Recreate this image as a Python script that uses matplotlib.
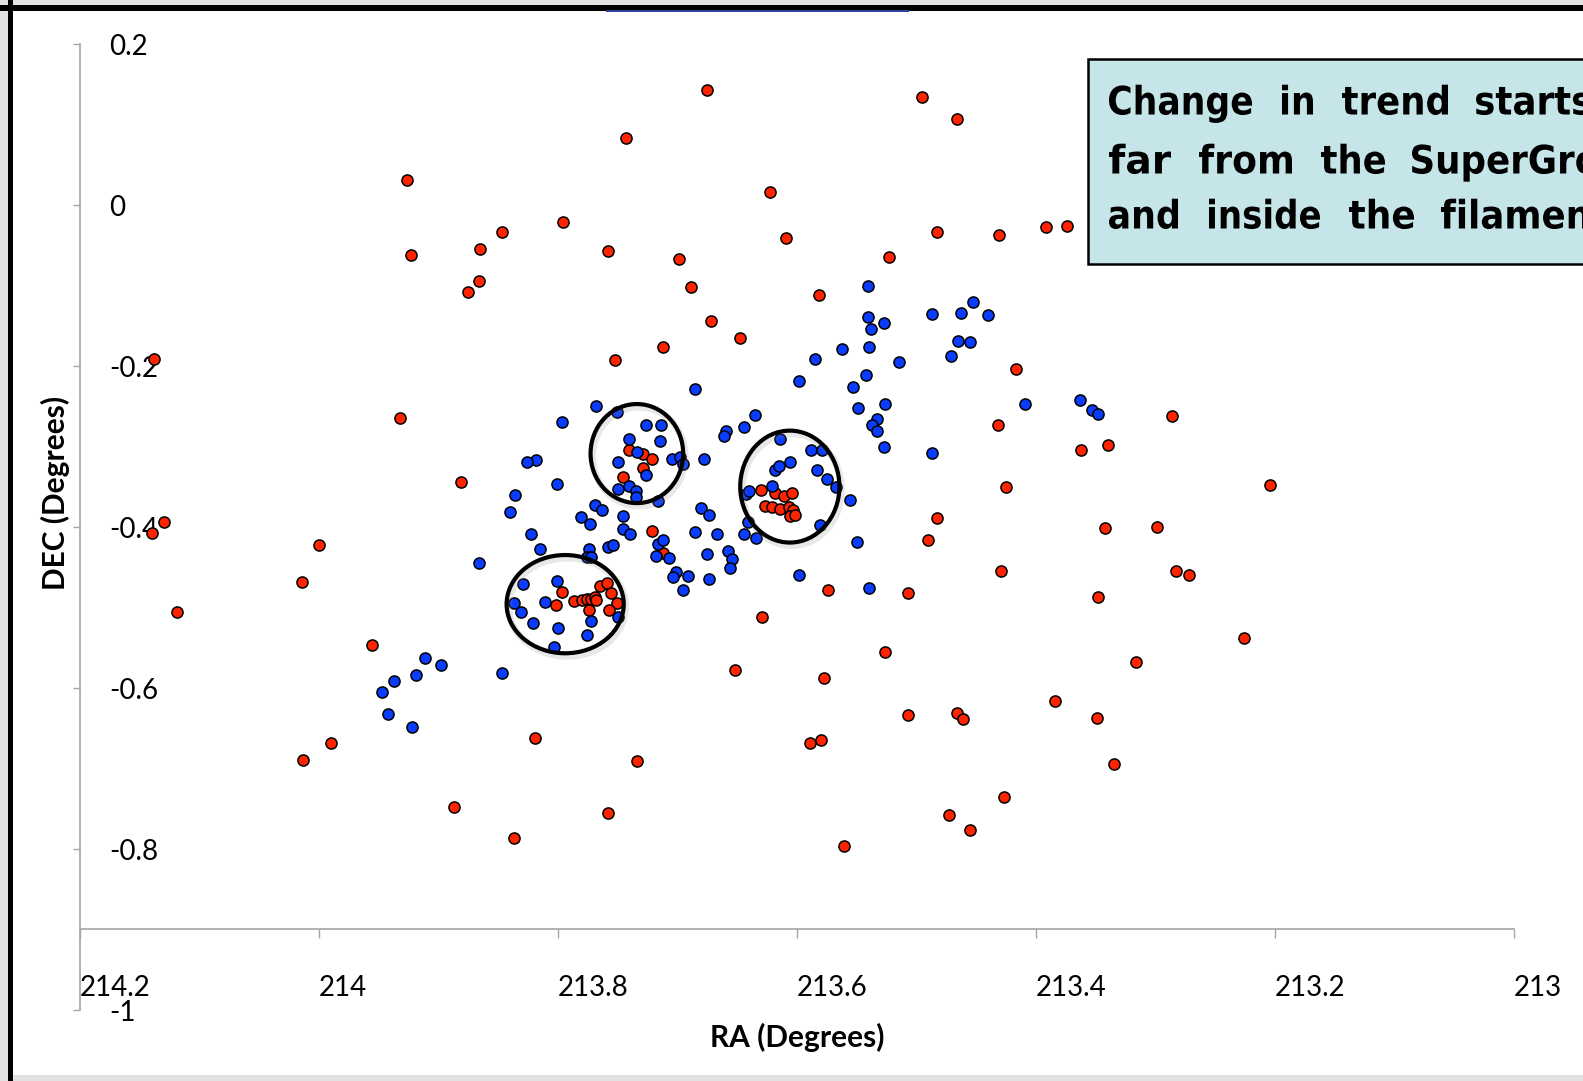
import matplotlib
matplotlib.use("Agg")
import matplotlib.pyplot as plt
from matplotlib.patches import Ellipse, Rectangle, PathPatch
from matplotlib.textpath import TextPath
from matplotlib.font_manager import FontProperties
from matplotlib import transforms

plt.rcParams['font.family'] = ['Lato', 'DejaVu Sans']

# red points (RA, DEC)
red_ra = [213.926, 213.923, 213.847, 213.865, 213.866, 213.875, 214.138, 213.932,
          213.675, 213.495, 213.743, 213.623, 213.796, 213.758, 213.699, 213.609,
          213.523, 213.689, 213.582, 213.672, 213.648, 213.712, 213.752,
          213.466, 213.483, 213.431, 213.392, 213.374, 213.417, 213.286, 213.432,
          213.362, 213.340,
          213.425, 213.204, 213.483, 213.490, 213.342, 213.299, 213.429, 213.283,
          213.272, 213.348, 213.226, 213.316, 213.384, 213.349, 213.466, 213.461,
          213.335, 213.427, 213.473, 213.455,
          213.881, 214.130, 214.140, 214.000, 214.014, 214.119, 213.956, 213.887,
          213.837, 213.990, 214.013,
          213.574, 213.507, 213.629, 213.526, 213.652, 213.577, 213.507, 213.589,
          213.580, 213.819, 213.734, 213.758, 213.561,
          213.721, 213.712,
          213.630, 213.618, 213.611, 213.604, 213.627, 213.621, 213.614, 213.607,
          213.603, 213.606, 213.602,
          213.741, 213.729, 213.721, 213.729, 213.746,
          213.797, 213.802, 213.787, 213.780, 213.776, 213.772, 213.769, 213.768,
          213.765, 213.759, 213.756, 213.751, 213.757, 213.774]
red_dec = [0.031, -0.062, -0.034, -0.055, -0.095, -0.108, -0.191, -0.265,
           0.142, 0.134, 0.083, 0.016, -0.021, -0.057, -0.067, -0.041,
           -0.065, -0.102, -0.112, -0.144, -0.166, -0.177, -0.193,
           0.106, -0.034, -0.038, -0.028, -0.026, -0.204, -0.262, -0.274,
           -0.305, -0.298,
           -0.351, -0.348, -0.389, -0.416, -0.402, -0.400, -0.455, -0.455,
           -0.460, -0.487, -0.538, -0.568, -0.616, -0.637, -0.631, -0.639,
           -0.694, -0.736, -0.758, -0.776,
           -0.344, -0.394, -0.408, -0.422, -0.468, -0.506, -0.547, -0.748,
           -0.787, -0.669, -0.689,
           -0.479, -0.482, -0.512, -0.555, -0.578, -0.588, -0.634, -0.668,
           -0.665, -0.662, -0.691, -0.755, -0.796,
           -0.405, -0.432,
           -0.354, -0.358, -0.362, -0.358, -0.374, -0.375, -0.378, -0.375,
           -0.379, -0.387, -0.385,
           -0.304, -0.310, -0.316, -0.327, -0.338,
           -0.481, -0.497, -0.492, -0.491, -0.489, -0.490, -0.487, -0.491,
           -0.474, -0.470, -0.482, -0.495, -0.503, -0.503]

# blue points (RA, DEC)
blue_ra = [213.541, 213.541, 213.538, 213.527, 213.540, 213.562, 213.585, 213.515,
           213.598, 213.542, 213.553, 213.685, 213.549, 213.526, 213.533, 213.537,
           213.533, 213.527, 213.768, 213.797, 213.635, 213.644, 213.659, 213.661,
           213.818, 213.826,
           213.487, 213.463, 213.453, 213.440, 213.465, 213.455, 213.471, 213.409,
           213.363, 213.353, 213.348, 213.487,
           213.836, 213.840, 213.866, 213.911, 213.898, 213.919, 213.937, 213.947,
           213.942, 213.922, 213.847,
           213.598, 213.540, 213.550, 213.556,
           213.751, 213.726, 213.714, 213.715, 213.741, 213.734, 213.750, 213.726,
           213.750, 213.741, 213.735, 213.735, 213.705, 213.698, 213.695, 213.678,
           213.716, 213.801, 213.769, 213.763, 213.781, 213.773, 213.746, 213.746,
           213.740, 213.823, 213.815, 213.774, 213.776, 213.772, 213.758, 213.754,
           213.716, 213.712, 213.718, 213.707, 213.701, 213.704, 213.691, 213.695,
           213.685, 213.680, 213.674, 213.675, 213.674, 213.667, 213.658, 213.654,
           213.656, 213.644, 213.641, 213.634, 213.643, 213.640,
           213.614, 213.618, 213.615, 213.606, 213.588, 213.579, 213.583, 213.575,
           213.567, 213.621, 213.581,
           213.829, 213.801, 213.837, 213.831, 213.811, 213.821, 213.800, 213.803,
           213.776, 213.772, 213.750]
blue_dec = [-0.101, -0.140, -0.154, -0.147, -0.177, -0.179, -0.192, -0.195,
            -0.219, -0.212, -0.226, -0.229, -0.252, -0.248, -0.266, -0.274,
            -0.281, -0.301, -0.250, -0.270, -0.261, -0.276, -0.281, -0.287,
            -0.317, -0.319,
            -0.136, -0.135, -0.121, -0.137, -0.169, -0.171, -0.188, -0.248,
            -0.243, -0.255, -0.260, -0.308,
            -0.361, -0.382, -0.445, -0.563, -0.571, -0.584, -0.592, -0.605,
            -0.632, -0.648, -0.581,
            -0.460, -0.476, -0.419, -0.367,
            -0.257, -0.274, -0.274, -0.294, -0.291, -0.307, -0.320, -0.335,
            -0.353, -0.349, -0.356, -0.363, -0.316, -0.313, -0.322, -0.316,
            -0.368, -0.347, -0.373, -0.379, -0.388, -0.396, -0.387, -0.403,
            -0.409, -0.409, -0.428, -0.427, -0.437, -0.437, -0.425, -0.423,
            -0.421, -0.416, -0.436, -0.439, -0.456, -0.462, -0.461, -0.478,
            -0.407, -0.376, -0.385, -0.434, -0.465, -0.409, -0.430, -0.440,
            -0.451, -0.409, -0.394, -0.414, -0.359, -0.356,
            -0.291, -0.330, -0.325, -0.320, -0.304, -0.305, -0.330, -0.341,
            -0.351, -0.349, -0.398,
            -0.471, -0.467, -0.494, -0.506, -0.493, -0.520, -0.526, -0.549,
            -0.534, -0.517, -0.512]

x_ticks = [214.2, 214.0, 213.8, 213.6, 213.4, 213.2, 213.0]
x_labels = ['214.2', '214', '213.8', '213.6', '213.4', '213.2', '213']
y_ticks = [0.2, 0.0, -0.2, -0.4, -0.6, -0.8, -1.0]
y_labels = ['0.2', '0', '-0.2', '-0.4', '-0.6', '-0.8', '-1']

# circled groups: (RA, DEC, width, height)
circles = [(213.794, -0.496, 0.098, 0.122),
           (213.734, -0.309, 0.0775, 0.123),
           (213.606, -0.350, 0.083, 0.139)]

note_lines = [['Change', 'in', 'trend', 'starts'],
              ['far', 'from', 'the', 'SuperGroup'],
              ['and', 'inside', 'the', 'filament']]

W, H = 1583, 1081
fig = plt.figure(figsize=(W / 100, H / 100), dpi=100)
fig.patch.set_facecolor('white')
ax = fig.add_axes([80 / W, 1 - 1010 / H, 1434 / W, (1010 - 43.7) / H])
ax.set_xlim(214.2, 213.0)
ax.set_ylim(-1.0, 0.2)

axis_grey = '#a6a6a6'
for s in ['top', 'right']:
    ax.spines[s].set_visible(False)
ax.spines['left'].set_color(axis_grey)
ax.spines['bottom'].set_color(axis_grey)
ax.spines['left'].set_linewidth(1.2)
ax.spines['bottom'].set_linewidth(1.2)
ax.spines['bottom'].set_position(('data', -0.9))

ax.set_xticks(x_ticks)
ax.set_xticklabels(x_labels)
ax.set_yticks(y_ticks)
ax.set_yticklabels([])
ax.tick_params(axis='x', direction='out', length=6.5, width=1, color=axis_grey,
               pad=26, labelsize=20)
ax.tick_params(axis='y', direction='out', length=5, width=1, color=axis_grey)
for lbl in ax.get_xticklabels():
    lbl.set_ha('left')

ytr = transforms.offset_copy(ax.get_yaxis_transform(), fig=fig, x=29, y=-3, units='dots')
for v, s in zip(y_ticks, y_labels):
    ax.text(0, v, s, transform=ytr, ha='left', va='center', fontsize=20)

ax.scatter(red_ra, red_dec, s=64, c='#ff2400', edgecolors='black', linewidths=1.1, zorder=3)
ax.scatter(blue_ra, blue_dec, s=64, c='#0a3cff', edgecolors='black', linewidths=1.1, zorder=4)

shadow = ax.transData + transforms.ScaledTranslation(2 / 100, -3 / 100, fig.dpi_scale_trans)
for cx, cy, w, h in circles:
    ax.add_patch(Ellipse((cx, cy), w, h, fill=False, ec='grey', lw=5, alpha=0.18,
                         transform=shadow, zorder=5))
    ax.add_patch(Ellipse((cx, cy), w, h, fill=False, ec='black', lw=3, zorder=6))

fig.text(797 / W, 1 - 1037 / H, 'RA (Degrees)', ha='center', va='center',
         fontsize=21.5, fontweight='bold')
fig.text(55.5 / W, 1 - 493 / H, 'DEC (Degrees)', ha='center', va='center',
         rotation=90, fontsize=21.5, fontweight='bold')

# text box at the top right, cut off by the edge
fig.patches.append(Rectangle((1088 / W, 1 - 264 / H), 600 / W, (264 - 58.5) / H,
                             transform=fig.transFigure, fc='#c5e5e8', ec='black',
                             lw=1.8, zorder=10))
# word starts / ink widths in pixels (None = cut off at the edge)
word_x = [[1109, 1282, 1342, 1476], [1109, 1199, 1321, 1412], [1109, 1209, 1349, 1441]]
word_w = [[143, 31, 106, None], [62, 93, 64, None], [69, 111, 65, None]]
baselines = [114.5, 173.5, 228.5]

fp = FontProperties(family='DejaVu Sans', weight='bold')
cap = TextPath((0, 0), 'H', size=1, prop=fp).get_extents().height
sy = 28.6 / cap
ratios = []
for line, xs, ws in zip(note_lines, word_x, word_w):
    for wd, x, wpx in zip(line, xs, ws):
        if wpx is not None:
            ratios.append(wpx / (TextPath((0, 0), wd, size=1, prop=fp).get_extents().width * sy))
sx_default = sum(ratios) / len(ratios)
px2fig = transforms.Affine2D().scale(1 / W, 1 / H) + fig.transFigure
for line, xs, ws, base in zip(note_lines, word_x, word_w, baselines):
    for wd, x, wpx in zip(line, xs, ws):
        tp = TextPath((0, 0), wd, size=1, prop=fp)
        ext = tp.get_extents()
        sx = (wpx / (ext.width * sy)) if wpx is not None else sx_default
        tr = transforms.Affine2D().translate(-ext.x0, 0).scale(sx * sy, sy).translate(x, H - base)
        fig.patches.append(PathPatch(tr.transform_path(tp), fc='black', ec='none',
                                     transform=px2fig, zorder=11))

# screenshot frame
fig.patches.append(Rectangle((0, 0), 8 / W, 1, transform=fig.transFigure,
                             fc='#e2e2e2', ec='none', zorder=20))
fig.patches.append(Rectangle((8 / W, 0), 5 / W, 1, transform=fig.transFigure,
                             fc='black', ec='none', zorder=21))
fig.patches.append(Rectangle((0, 1 - 5 / H), 1, 5 / H, transform=fig.transFigure,
                             fc='#e2e2e2', ec='none', zorder=20))
fig.patches.append(Rectangle((0, 1 - 11 / H), 1, 6 / H, transform=fig.transFigure,
                             fc='black', ec='none', zorder=21))
fig.patches.append(Rectangle((606 / W, 1 - 12 / H), 303 / W, 2 / H, transform=fig.transFigure,
                             fc='#3040a0', ec='none', zorder=22))
fig.patches.append(Rectangle((0, 0), 1, 6 / H, transform=fig.transFigure,
                             fc='#e2e2e2', ec='none', zorder=20))

fig.savefig('out.png', dpi=100)
